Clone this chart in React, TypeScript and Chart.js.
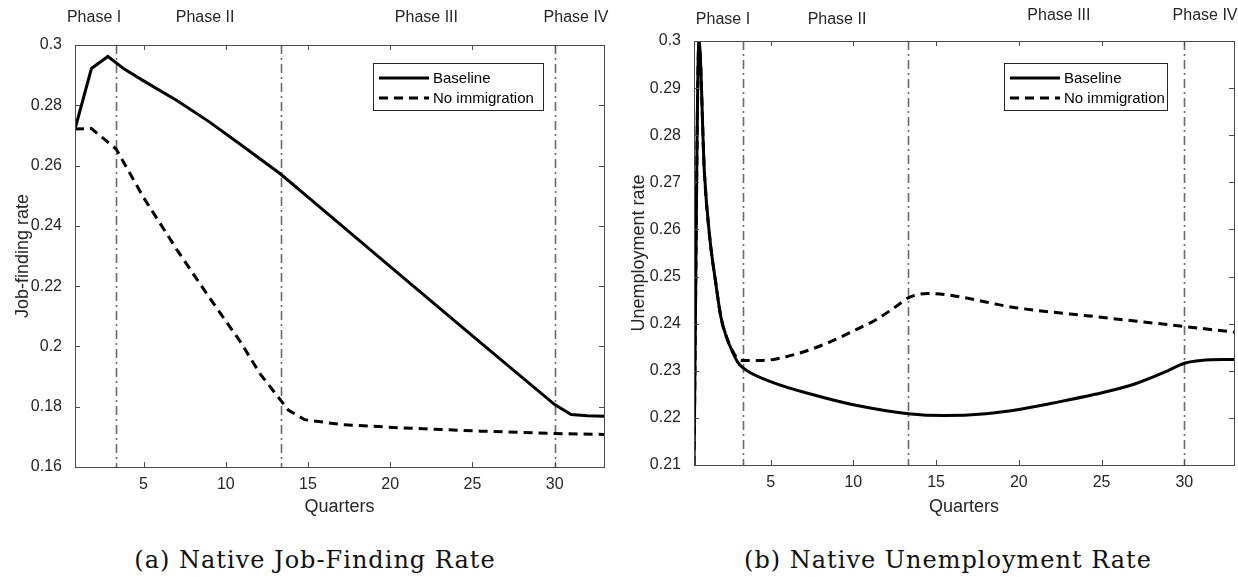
import React, { useEffect, useRef } from "react";
import { Chart, registerables } from "chart.js";

Chart.register(...registerables);

const FONT = '"Liberation Sans", Arial, Helvetica, sans-serif';
const INK = "#262626";

// ---------- shared ----------
const quarterTicks = [5, 10, 15, 20, 25, 30];
const phaseBreaks = [3.33, 13.33, 30];
const phaseNames = ["Phase I", "Phase II", "Phase III", "Phase IV"];
const seriesNames = ["Baseline", "No immigration"];

// ---------- panel (a): native job-finding rate ----------
const jfBaselineQ = [0.83, 1.83, 2.83, 3.83, 5, 7, 9, 11, 13.33, 15, 20, 25, 30, 31, 32, 33];
const jfBaseline = [0.2721, 0.2922, 0.2962, 0.292, 0.2881, 0.2817, 0.2745, 0.2666, 0.2572, 0.2495, 0.2265, 0.2035, 0.1807, 0.1774, 0.177, 0.1768];
const jfNoImmQ = [0.83, 1.83, 3.33, 5, 7, 9, 10.88, 12.1, 13.33, 13.8, 14.8, 17, 20.6, 25.5, 30, 33];
const jfNoImm = [0.2721, 0.2723, 0.2655, 0.2494, 0.2323, 0.2162, 0.2016, 0.1908, 0.1822, 0.1789, 0.1757, 0.1741, 0.173, 0.1719, 0.1711, 0.1708];
const jfYTicks = [0.16, 0.18, 0.2, 0.22, 0.24, 0.26, 0.28, 0.3];
const jfPhaseLabelQ = [1.99, 8.74, 22.2, 31.3];

// ---------- panel (b): native unemployment rate ----------
const urBaselineQ = [0.37, 0.67, 1.0, 1.33, 1.67, 2.0, 2.33, 2.67, 3.0, 3.33, 5, 7.8, 10, 13.33, 15.5, 18, 20, 22, 24.6, 27, 29, 30, 31, 33];
const urBaseline = [0.21, 0.3, 0.272, 0.258, 0.249, 0.2413, 0.2372, 0.2342, 0.2319, 0.2306, 0.2277, 0.2247, 0.2228, 0.2209, 0.2205, 0.2209, 0.2218, 0.2231, 0.225, 0.2272, 0.23, 0.2316, 0.2322, 0.2324];
const urNoImmQ = [0.37, 0.67, 1.0, 1.33, 1.67, 2.0, 2.33, 2.67, 3.0, 3.33, 4.5, 6.6, 8.5, 10.2, 11.4, 12.6, 13.33, 14.5, 15.5, 19.8, 24.6, 30, 33];
const urNoImm = [0.21, 0.3, 0.272, 0.258, 0.249, 0.2413, 0.2372, 0.2344, 0.2326, 0.2322, 0.2322, 0.2336, 0.236, 0.2388, 0.2409, 0.2437, 0.2455, 0.2464, 0.2462, 0.2434, 0.2415, 0.2394, 0.2382];
const urYTicks = [0.21, 0.22, 0.23, 0.24, 0.25, 0.26, 0.27, 0.28, 0.29, 0.3];
const urPhaseLabelQ = [2.12, 9.01, 22.42, 31.25];

type Panel = {
  offsetX: number;
  width: number;
  height: number;
  area: { l: number; r: number; t: number; b: number };
  xMin: number;
  xMax: number;
  yTicks: number[];
  yTitle: string;
  yTitlePad: number;
  baseQ: number[];
  base: number[];
  noQ: number[];
  no: number[];
  smooth: boolean;
  phaseQ: number[];
  phaseY: number[];
  legend: { x: number; y: number; w: number; h: number };
  caption: string;
  captionX: number;
};

const panels: Panel[] = [
  {
    offsetX: 0,
    width: 619,
    height: 540,
    area: { l: 75, r: 604, t: 45, b: 467 },
    xMin: 0.83,
    xMax: 33,
    yTicks: jfYTicks,
    yTitle: "Job-finding rate",
    yTitlePad: 12,
    baseQ: jfBaselineQ,
    base: jfBaseline,
    noQ: jfNoImmQ,
    no: jfNoImm,
    smooth: false,
    phaseQ: jfPhaseLabelQ,
    phaseY: [18, 18, 18, 18],
    legend: { x: 373, y: 63, w: 170, h: 47 },
    caption: "(a) Native Job-Finding Rate",
    captionX: 315,
  },
  {
    offsetX: 619,
    width: 619,
    height: 540,
    area: { l: 75, r: 615, t: 41, b: 465 },
    xMin: 0.37,
    xMax: 33,
    yTicks: urYTicks,
    yTitle: "Unemployment rate",
    yTitlePad: 9,
    baseQ: urBaselineQ,
    base: urBaseline,
    noQ: urNoImmQ,
    no: urNoImm,
    smooth: true,
    phaseQ: urPhaseLabelQ,
    phaseY: [20, 20, 16, 16],
    legend: { x: 385, y: 63, w: 163, h: 47 },
    caption: "(b) Native Unemployment Rate",
    captionX: 948,
  },
];

function fmt(v: number) {
  return String(parseFloat(v.toFixed(2)));
}

function makePlugin(p: Panel) {
  return {
    id: "decor",
    beforeDatasetsDraw(chart: any) {
      const { ctx, chartArea: a } = chart;
      const x = chart.scales.x;
      ctx.save();
      ctx.strokeStyle = "#6a6a6a";
      ctx.lineWidth = 1.6;
      ctx.setLineDash([9, 4, 2, 4]);
      for (const q of phaseBreaks) {
        const px = Math.round(x.getPixelForValue(q)) + 0.5;
        ctx.beginPath();
        ctx.moveTo(px, a.top);
        ctx.lineTo(px, a.bottom);
        ctx.stroke();
      }
      ctx.restore();
    },
    afterDraw(chart: any) {
      const { ctx, chartArea: a } = chart;
      const x = chart.scales.x;
      const y = chart.scales.y;
      ctx.save();
      // box
      ctx.strokeStyle = "#4a4a4a";
      ctx.lineWidth = 1;
      ctx.setLineDash([]);
      ctx.strokeRect(Math.round(a.left) + 0.5, Math.round(a.top) + 0.5, Math.round(a.right - a.left), Math.round(a.bottom - a.top));
      // inward ticks
      const tl = 5;
      ctx.beginPath();
      for (const q of quarterTicks) {
        const px = Math.round(x.getPixelForValue(q)) + 0.5;
        ctx.moveTo(px, a.bottom);
        ctx.lineTo(px, a.bottom - tl);
        ctx.moveTo(px, a.top);
        ctx.lineTo(px, a.top + tl);
      }
      for (const v of p.yTicks) {
        const py = Math.round(y.getPixelForValue(v)) + 0.5;
        ctx.moveTo(a.left, py);
        ctx.lineTo(a.left + tl, py);
        ctx.moveTo(a.right, py);
        ctx.lineTo(a.right - tl, py);
      }
      ctx.stroke();
      // phase labels
      ctx.fillStyle = INK;
      ctx.font = `16px ${FONT}`;
      ctx.textAlign = "center";
      ctx.textBaseline = "middle";
      phaseNames.forEach((name, i) => {
        ctx.fillText(name, x.getPixelForValue(p.phaseQ[i]), p.phaseY[i]);
      });
      // legend
      const L = p.legend;
      ctx.fillStyle = "#fff";
      ctx.fillRect(L.x, L.y, L.w, L.h);
      ctx.strokeStyle = "#262626";
      ctx.lineWidth = 1;
      ctx.strokeRect(L.x + 0.5, L.y + 0.5, L.w, L.h);
      const rows = [L.y + 15, L.y + 35];
      ctx.strokeStyle = "#000";
      ctx.lineWidth = 3;
      rows.forEach((ry, i) => {
        ctx.setLineDash(i === 0 ? [] : [9, 6]);
        ctx.beginPath();
        ctx.moveTo(L.x + 6, ry);
        ctx.lineTo(L.x + 56, ry);
        ctx.stroke();
      });
      ctx.setLineDash([]);
      ctx.fillStyle = "#000";
      ctx.font = `15px ${FONT}`;
      ctx.textAlign = "left";
      ctx.textBaseline = "middle";
      rows.forEach((ry, i) => ctx.fillText(seriesNames[i], L.x + 60, ry + 1));
      ctx.restore();
    },
  };
}

function PanelChart({ p }: { p: Panel }) {
  const ref = useRef<HTMLCanvasElement | null>(null);
  useEffect(() => {
    if (!ref.current) return;
    const mk = (qs: number[], vs: number[]) => qs.map((q, i) => ({ x: q, y: vs[i] }));
    const chart = new Chart(ref.current, {
      type: "line",
      data: {
        datasets: [
          {
            label: seriesNames[0],
            data: mk(p.baseQ, p.base),
            borderColor: "#000",
            borderWidth: 3,
            pointRadius: 0,
            fill: false,
            cubicInterpolationMode: p.smooth ? "monotone" : "default",
            tension: 0,
          },
          {
            label: seriesNames[1],
            data: mk(p.noQ, p.no),
            borderColor: "#000",
            borderWidth: 3,
            borderDash: [9, 6],
            pointRadius: 0,
            fill: false,
            cubicInterpolationMode: p.smooth ? "monotone" : "default",
            tension: 0,
          },
        ],
      },
      options: {
        animation: false,
        responsive: false,
        maintainAspectRatio: false,
        layout: { padding: { top: p.area.t, right: p.width - p.area.r, left: 0, bottom: 0 } },
        plugins: { legend: { display: false }, tooltip: { enabled: false } },
        scales: {
          x: {
            type: "linear",
            min: p.xMin,
            max: p.xMax,
            grid: { display: false, drawTicks: false },
            border: { display: false },
            afterBuildTicks: (s: any) => {
              s.ticks = quarterTicks.map((v) => ({ value: v }));
            },
            afterFit: (s: any) => {
              s.height = p.height - p.area.b;
            },
            ticks: {
              color: INK,
              font: { family: FONT, size: 16 },
              padding: 8,
              maxRotation: 0,
              autoSkip: false,
              callback: (v: any) => String(v),
            },
            title: {
              display: true,
              text: "Quarters",
              color: INK,
              font: { family: FONT, size: 18 },
              padding: { top: 0, bottom: 22 },
            },
          },
          y: {
            type: "linear",
            min: p.yTicks[0],
            max: p.yTicks[p.yTicks.length - 1],
            grid: { display: false, drawTicks: false },
            border: { display: false },
            afterBuildTicks: (s: any) => {
              s.ticks = p.yTicks.map((v) => ({ value: v }));
            },
            afterFit: (s: any) => {
              s.width = p.area.l;
            },
            ticks: {
              color: INK,
              font: { family: FONT, size: 16 },
              padding: 13,
              autoSkip: false,
              callback: (v: any) => fmt(Number(v)),
            },
            title: {
              display: true,
              text: p.yTitle,
              color: INK,
              font: { family: FONT, size: 18 },
              padding: { top: p.yTitlePad, bottom: 0 },
            },
          },
        },
      },
      plugins: [makePlugin(p)],
    } as any);
    return () => chart.destroy();
  }, [p]);
  return (
    <canvas
      ref={ref}
      width={p.width}
      height={p.height}
      style={{ position: "absolute", left: p.offsetX, top: 0, width: p.width, height: p.height }}
    />
  );
}

export default function App() {
  return (
    <div style={{ position: "fixed", left: 0, top: 0, width: 1238, height: 577, background: "#fff", overflow: "hidden" }}>
      {panels.map((p, i) => (
        <PanelChart key={i} p={p} />
      ))}
      {panels.map((p, i) => (
        <div
          key={"c" + i}
          style={{
            position: "absolute",
            left: p.captionX - 300,
            width: 600,
            top: 545,
            textAlign: "center",
            fontFamily: '"DejaVu Serif", serif',
            fontSize: 24,
            letterSpacing: 1,
            lineHeight: "30px",
            color: "#111",
            whiteSpace: "nowrap",
          }}
        >
          {p.caption}
        </div>
      ))}
    </div>
  );
}
